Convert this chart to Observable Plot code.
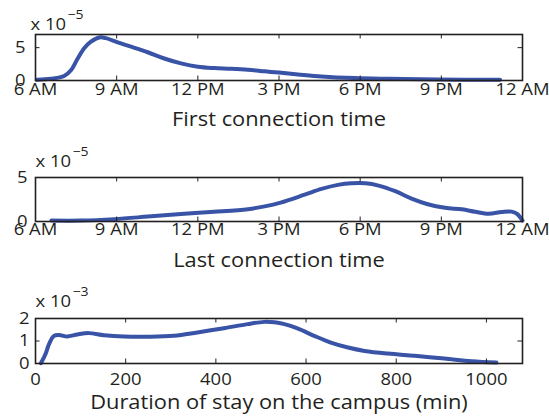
<!DOCTYPE html>
<html><head><meta charset="utf-8">
<script src="https://cdn.jsdelivr.net/npm/d3@7"></script>
<script src="https://cdn.jsdelivr.net/npm/@observablehq/plot@0.6"></script>
<style>
body{margin:0;background:#fff;}
#chart{width:549px;height:417px;}
#chart svg{display:block;}
</style></head><body><div id="chart"></div>
<script>
// ---- data ----
const timeTicks = [6, 9, 12, 15, 18, 21, 24];
const timeTickLabels = ["6 AM", "9 AM", "12 PM", "3 PM", "6 PM", "9 PM", "12 AM"];
const durationTicks = [0, 200, 400, 600, 800, 1000];
const firstYTicks = [0, 5];
const lastYTicks = [0, 5];
const durationYTicks = [0, 1, 2];

// First connection time (hours of day) vs density (x 10^-5)
const firstHours  = [6.05, 6.57, 7.06, 7.31, 7.56, 7.8, 8.05, 8.36, 8.6, 9.04, 9.53, 10.15, 10.76, 11.38, 12.0, 12.6, 13.23, 13.85, 14.47, 15.0, 15.7, 16.57, 17.8, 19.04, 20.9, 23.17];
const firstValues = [0.1, 0.26, 0.68, 1.55, 3.35, 4.9, 5.9, 6.55, 6.45, 5.8, 5.15, 4.3, 3.35, 2.6, 2.1, 1.9, 1.8, 1.65, 1.4, 1.2, 0.93, 0.62, 0.37, 0.26, 0.15, 0.1];

// Last connection time (hours of day) vs density (x 10^-5)
const lastHours  = [6.59, 7.68, 8.91, 10.15, 11.38, 12.6, 13.85, 14.47, 15.06, 15.95, 16.57, 17.18, 17.68, 18.2, 18.68, 19.3, 19.9, 20.5, 21.14, 21.76, 22.25, 22.75, 23.23, 23.6, 23.8, 24.0];
const lastValues = [0.11, 0.11, 0.27, 0.56, 0.86, 1.1, 1.4, 1.72, 2.15, 3.05, 3.7, 4.16, 4.34, 4.34, 4.08, 3.44, 2.6, 1.96, 1.56, 1.38, 1.11, 0.89, 1.08, 1.12, 0.86, 0.1];

// Duration of stay (min) vs density (x 10^-3)
const durMinutes = [12, 22, 30, 41, 55, 70, 93, 118, 152, 196, 248, 307, 359, 418, 470, 507, 530, 552, 581, 618, 655, 693, 730, 781, 841, 907, 967, 1022];
const durValues  = [0.01, 0.41, 0.86, 1.23, 1.26, 1.2, 1.29, 1.35, 1.26, 1.2, 1.19, 1.23, 1.38, 1.57, 1.75, 1.85, 1.83, 1.75, 1.56, 1.23, 0.93, 0.71, 0.56, 0.44, 0.34, 0.22, 0.1, 0.04];

// ---- style ----
const FONT = "'Open Sans', sans-serif";
const INK = "#231f20";
const LINE = "#3953a6";
const W = 549, ML = 35, MR = 27;
const TICK = 4.5;
const SX = 1.12; // horizontal text stretch

const timeFormat = d => timeTickLabels[timeTicks.indexOf(d)];

function panel(cfg) {
  const fh = cfg.height - cfg.mt - cfg.mb;
  const fw = W - ML - MR;
  const rows = cfg.xs.map((x, i) => ({x, y: cfg.ys[i]}));
  const svg = Plot.plot({
    width: W, height: cfg.height,
    marginLeft: ML, marginRight: MR, marginTop: cfg.mt, marginBottom: cfg.mb,
    style: {fontFamily: FONT, color: INK, background: "transparent", overflow: "visible"},
    x: {domain: cfg.xDomain},
    y: {domain: cfg.yDomain},
    marks: [
      Plot.line(rows, {x: "x", y: "y", stroke: LINE, strokeWidth: 4, curve: "catmull-rom"}),
      // inward ticks on all four sides
      Plot.ruleX(cfg.xTicks, {stroke: INK, strokeWidth: 1, insetTop: fh - TICK}),
      Plot.ruleX(cfg.xTicks, {stroke: INK, strokeWidth: 1, insetBottom: fh - TICK}),
      Plot.ruleY(cfg.yTicks, {stroke: INK, strokeWidth: 1, insetRight: fw - TICK}),
      Plot.ruleY(cfg.yTicks, {stroke: INK, strokeWidth: 1, insetLeft: fw - TICK}),
      Plot.frame({stroke: INK, strokeWidth: 1.6}),
      Plot.axisX({anchor: "bottom", ticks: cfg.xTicks, tickFormat: cfg.xFormat, tickSize: 0, tickPadding: cfg.xPad, fontSize: 16.5, label: null}),
      Plot.axisY({anchor: "left", ticks: cfg.yTicks, tickFormat: d => String(d), tickSize: 0, tickPadding: cfg.yPad, fontSize: 16.5, label: null}),
      Plot.text([cfg.label], {frameAnchor: "bottom", text: d => d, lineAnchor: "bottom", dy: 45, fontSize: 19.5, fill: INK}),
      Plot.text(["x 10"], {frameAnchor: "top-left", text: d => d, textAnchor: "start", lineAnchor: "bottom", dx: cfg.expDx, dy: cfg.expDy, fontSize: 16.5, fill: INK}),
      Plot.text([cfg.exp], {frameAnchor: "top-left", text: d => d, textAnchor: "start", lineAnchor: "bottom", dx: cfg.expDx + 37, dy: cfg.expDy - 11, fontSize: 12.5, fill: INK})
    ]
  });
  d3.select(svg).selectAll("text").each(function () {
    const t = this.getAttribute("transform") || "";
    const x = +this.getAttribute("x") || 0, y = +this.getAttribute("y") || 0;
    this.setAttribute("transform", `${t} translate(${x},${y}) scale(${SX},1) translate(${-x},${-y})`);
  });
  return svg;
}

const chart = document.getElementById("chart");
chart.append(panel({
  height: 139, mt: 34, mb: 59,
  xs: firstHours, ys: firstValues,
  xDomain: [6, 24], yDomain: [0, 7],
  xTicks: timeTicks, xFormat: timeFormat, yTicks: firstYTicks,
  xPad: 3, yPad: 10,
  label: "First connection time", exp: "\u22125", expDx: -5, expDy: -5
}));
chart.append(panel({
  height: 139, mt: 38, mb: 57,
  xs: lastHours, ys: lastValues,
  xDomain: [6, 24], yDomain: [0, 5],
  xTicks: timeTicks, xFormat: timeFormat, yTicks: lastYTicks,
  xPad: 1.5, yPad: 8,
  label: "Last connection time", exp: "\u22125", expDx: 0, expDy: -11
}));
chart.append(panel({
  height: 139, mt: 40, mb: 54,
  xs: durMinutes, ys: durValues,
  xDomain: [0, 1080], yDomain: [0, 2],
  xTicks: durationTicks, xFormat: d => String(d), yTicks: durationYTicks,
  xPad: 10, yPad: 6,
  label: "Duration of stay on the campus (min)", exp: "\u22123", expDx: 0, expDy: -11.5
}));
</script>
</body></html>
